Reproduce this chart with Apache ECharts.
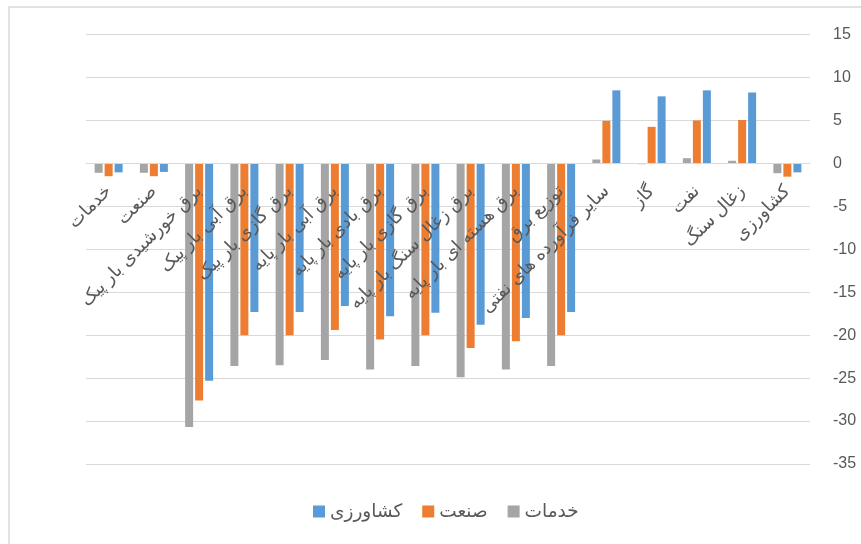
<!DOCTYPE html>
<html>
<head>
<meta charset="utf-8">
<script src="https://cdn.jsdelivr.net/npm/echarts@6/dist/echarts.min.js"></script>
<style>
html,body{margin:0;padding:0;background:#fff;}
#main{width:861px;height:544px;}
</style>
</head>
<body>
<div id="main"></div>
<script>
var categories = ['خدمات','صنعت','برق خورشیدی بار پیک','برق آبی بار پیک','برق گازی بار پیک','برق آبی بار پایه','برق بادی بار پایه','برق گازی بار پایه','برق زغال سنگ بار پایه','برق هسته ای بار پایه','توزیع برق','سایر فرآورده های نفتی','گاز','نفت','زغال سنگ','کشاورزی'];
var seriesNames = ['خدمات','صنعت','کشاورزی'];
var khadamat = [-1.1, -1.1, -30.7, -23.6, -23.5, -22.9, -24.0, -23.6, -24.9, -24.0, -23.6, 0.45, -0.1, 0.6, 0.3, -1.15];
var sanat = [-1.5, -1.5, -27.6, -20.0, -20.0, -19.4, -20.5, -20.0, -21.5, -20.7, -20.0, 4.95, 4.25, 5.0, 5.05, -1.55];
var keshavarzi = [-1.05, -1.0, -25.3, -17.3, -17.3, -16.6, -17.8, -17.4, -18.8, -18.0, -17.3, 8.5, 7.8, 8.5, 8.25, -1.05];
var legendOrder = ['کشاورزی','صنعت','خدمات'];
var yTicks = {min: -35, max: 15, interval: 5};

var colors = ['#A5A5A5', '#ED7D31', '#5B9BD5'];
var font = 'Liberation Sans, DejaVu Sans, sans-serif';
var gridTop = 34.5, gridBottom = 80, H = 544;
// distance from the bottom of the plot to the zero line, derived from the value scale
var zeroOffset = -(H - gridBottom - gridTop) * (0 - yTicks.min) / (yTicks.max - yTicks.min);
var chart = echarts.init(document.getElementById('main'), null, {renderer: 'canvas'});
var vals = [khadamat, sanat, keshavarzi];
chart.setOption({
  animation: false,
  backgroundColor: '#fff',
  color: colors,
  graphic: [{
    type: 'rect', silent: true, z: -1,
    shape: {x: 9, y: 7, width: 900, height: 600},
    style: {fill: 'none', stroke: '#d9d9d9', lineWidth: 1.5}
  }],
  legend: {
    data: legendOrder,
    bottom: 18,
    left: 308,
    icon: 'rect',
    itemWidth: 12, itemHeight: 12, itemGap: 20,
    textStyle: {fontSize: 18.5, color: '#595959', fontFamily: font}
  },
  grid: {left: 86, right: 51, top: gridTop, bottom: gridBottom, containLabel: false, outerBoundsMode: 'none'},
  xAxis: {
    type: 'category',
    data: categories,
    position: 'bottom',
    offset: zeroOffset,
    z: 10,
    axisLine: {show: true, onZero: false, lineStyle: {color: '#d9d9d9', width: 1}},
    axisTick: {show: false},
    axisLabel: {interval: 0, rotate: 45, margin: 25, fontSize: 18, color: '#595959', fontFamily: font},
    splitLine: {show: false}
  },
  yAxis: {
    type: 'value',
    position: 'right',
    min: yTicks.min, max: yTicks.max, interval: yTicks.interval,
    axisLine: {show: false},
    axisTick: {show: false},
    axisLabel: {margin: 23, align: 'left', fontSize: 16, color: '#595959', fontFamily: font},
    splitLine: {lineStyle: {color: '#d9d9d9', width: 1}}
  },
  series: seriesNames.map(function (n, i) {
    return {name: n, type: 'bar', data: vals[i], barWidth: 8, barGap: '25%', z: 1};
  })
});
</script>
</body>
</html>
